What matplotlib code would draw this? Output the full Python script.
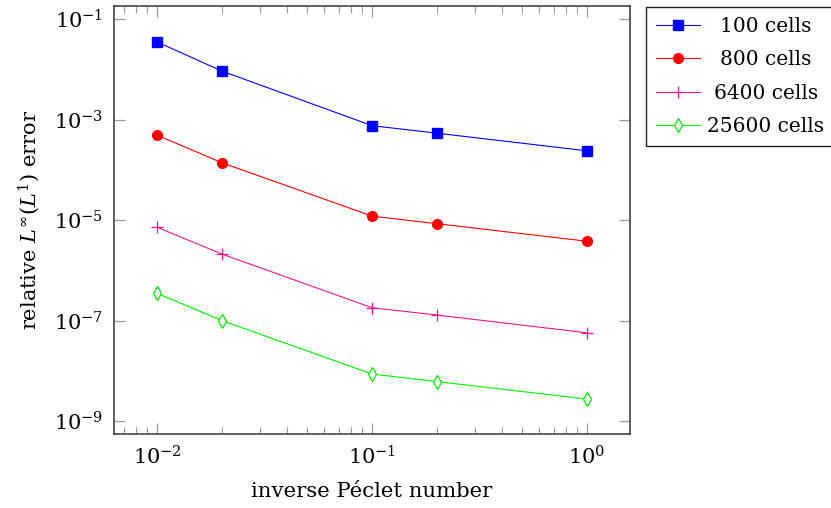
import matplotlib
matplotlib.use("Agg")
import matplotlib.pyplot as plt
from matplotlib.ticker import LogLocator, NullFormatter, NullLocator

plt.rcParams['font.family'] = ['DejaVu Serif']
plt.rcParams['mathtext.fontset'] = 'dejavuserif'

inv_peclet = [0.01, 0.02, 0.1, 0.2, 1.0]
err_100 = [3.53e-2, 9.3e-3, 7.6e-4, 5.4e-4, 2.4e-4]
err_800 = [4.9e-4, 1.39e-4, 1.2e-5, 8.5e-6, 3.8e-6]
err_6400 = [7.2e-6, 2.11e-6, 1.8e-7, 1.29e-7, 5.7e-8]
err_25600 = [3.47e-7, 1.0e-7, 8.6e-9, 6.1e-9, 2.73e-9]
labels = ['100 cells', '800 cells', '6400 cells', '25600 cells']
y_ticks = [1e-9, 1e-7, 1e-5, 1e-3, 1e-1]

fig = plt.figure(figsize=(8.31, 5.08), dpi=100)
ax = fig.add_axes([114/831, 1-434/508, (630-114)/831, (434-6)/508])

lw = 0.8
ax.plot(inv_peclet, err_100, color='#0000ff', marker='s', markersize=6.5, lw=lw, label=labels[0])
ax.plot(inv_peclet, err_800, color='#ff0000', marker='o', markersize=7, lw=lw, label=labels[1])
ax.plot(inv_peclet, err_6400, color='#e6168c', marker='+', markersize=8, mew=0.9, lw=lw, label=labels[2])
ax.plot(inv_peclet, err_25600, color='#00ee00', marker='d', markersize=7, mfc='white', mew=0.9, lw=lw, label=labels[3])

ax.set_xscale('log')
ax.set_yscale('log')
ax.set_xlim(10**-2.2014, 10**0.2)
ax.set_ylim(10**-9.259, 10**-0.735)

ax.set_yticks(y_ticks)
ax.yaxis.set_minor_locator(NullLocator())
ax.xaxis.set_minor_locator(LogLocator(base=10, subs=range(2, 10), numticks=20))
ax.xaxis.set_minor_formatter(NullFormatter())

ax.tick_params(which='both', direction='in', top=True, right=True, color='#999999', labelsize=15, pad=8)
ax.tick_params(which='major', length=8, width=0.9)
ax.tick_params(which='minor', length=5, width=0.8)
for s in ax.spines.values():
    s.set_color('#444444')
    s.set_linewidth(1.2)

ax.set_xlabel('inverse Péclet number', fontsize=15.3, labelpad=10)
ax.set_ylabel(r'relative $L^\infty(L^1)$ error', fontsize=15, labelpad=8)

leg = ax.legend(loc='upper left', bbox_to_anchor=(1.031, 0.998), fontsize=14.5, frameon=True,
                fancybox=False, edgecolor='#222222', framealpha=1, borderaxespad=0,
                handlelength=2.2, labelspacing=0.72, borderpad=0.5, handletextpad=0.35)
leg.get_frame().set_linewidth(1.0)

# center the label texts within the text column, as in the reference
fig.canvas.draw()
r = fig.canvas.get_renderer()
texts = leg.get_texts()
widths = [t.get_window_extent(r).width for t in texts]
mw = max(widths)
for t, w in zip(texts, widths):
    t.set_x((mw - w) / 2)

fig.savefig('out.png', dpi=100)
